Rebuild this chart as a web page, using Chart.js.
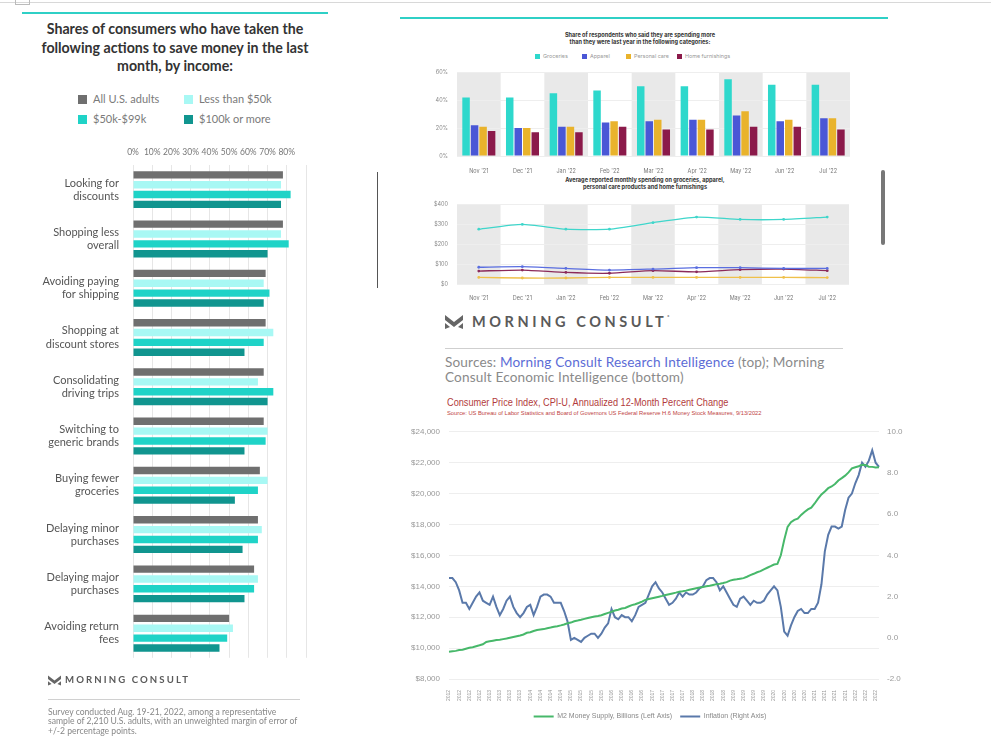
<!DOCTYPE html>
<html>
<head>
<meta charset="utf-8">
<script src="https://cdn.jsdelivr.net/npm/chart.js@4.4.1/dist/chart.umd.min.js"></script>
<style>
  body { margin: 0; width: 991px; height: 738px; background: #fff; position: relative; overflow: hidden; font-family: Lato, sans-serif; }
  .abs { position: absolute; }
  canvas { position: absolute; }
  .sq { position: absolute; width: 9px; height: 9px; }
  .lg { position: absolute; font-size: 11px; color: #7a7a7a; white-space: nowrap; }
  .tiny { position: absolute; font-family: Inter, sans-serif; font-size: 5.6px; color: #333; font-weight: 700; text-align: center; line-height: 7px; }
  .tlg { position: absolute; font-family: Inter, sans-serif; font-size: 5.4px; color: #999; white-space: nowrap; }
  .tlg i { display: inline-block; width: 5px; height: 5px; margin-right: 3px; vertical-align: -0.5px; }
  .mc { position: absolute; font-family: Lato, sans-serif; font-weight: 700; color: #5a5a5a; white-space: nowrap; }
</style>
</head>
<body>
<div class="abs" style="left:0;top:2px;width:991px;height:1px;background:#d8d8d8"></div>
<div class="abs" style="left:15px;top:0;width:13px;height:4px;border:1px solid #bbb;border-top:none"></div>

<!-- left panel -->
<div class="abs" style="left:22px;top:12px;width:306px;height:2px;background:#2fd0c6"></div>
<div class="abs" style="left:20px;top:20px;width:310px;text-align:center;font-weight:700;font-size:14.2px;line-height:18.5px;color:#333">Shares of consumers who have taken the following actions to save money in the last month, by income:</div>
<div class="sq" style="left:78px;top:95px;background:#6f6f6f"></div><div class="lg" style="left:93px;top:92px">All U.S. adults</div>
<div class="sq" style="left:184px;top:95px;background:#a8f8f4"></div><div class="lg" style="left:199px;top:92px">Less than $50k</div>
<div class="sq" style="left:78px;top:115px;background:#1fd3c7"></div><div class="lg" style="left:93px;top:112px">$50k-$99k</div>
<div class="sq" style="left:184px;top:115px;background:#10958f"></div><div class="lg" style="left:199px;top:112px">$100k or more</div>
<canvas id="actions" width="320" height="537" style="left:0;top:140px"></canvas>
<svg class="abs" style="left:48px;top:675px" width="13" height="11" viewBox="0 0 18 14"><path d="M0 0 L9 7 L18 0 L18 5 L9 12 L0 5Z M0 8 L5 12 L0 14Z M18 8 L13 12 L18 14Z" fill="#666"/></svg>
<div class="mc" style="left:65px;top:674px;font-size:9.6px;letter-spacing:2.1px">MORNING CONSULT</div>
<div class="abs" style="left:48px;top:699px;width:252px;height:1px;background:#d0d0d0"></div>
<div class="abs" style="left:48px;top:708px;width:290px;font-size:8.6px;line-height:9.3px;color:#888;white-space:nowrap">Survey conducted Aug. 19-21, 2022, among a representative<br>sample of 2,210 U.S. adults, with an unweighted margin of error of<br>+/-2 percentage points.</div>

<!-- right panel -->
<div class="abs" style="left:400px;top:17px;width:488px;height:2px;background:#2fd0c6"></div>
<div class="tiny" style="left:540px;top:32px;width:200px">Share of respondents who said they are spending more<br>than they were last year in the following categories:</div>
<div class="tlg" style="left:535px;top:53px"><i style="background:#2ed8cc"></i>Groceries</div>
<div class="tlg" style="left:582px;top:53px"><i style="background:#4a57d6"></i>Apparel</div>
<div class="tlg" style="left:626px;top:53px"><i style="background:#e9b32c"></i>Personal care</div>
<div class="tlg" style="left:677px;top:53px"><i style="background:#8b1a4a"></i>Home furnishings</div>
<canvas id="shares" width="470" height="115" style="left:400px;top:60px"></canvas>

<div class="abs" style="left:377px;top:172px;width:1px;height:116px;background:#555"></div>
<div class="abs" style="left:881px;top:170px;width:4px;height:75px;background:#777;border-radius:2px"></div>
<div class="tiny" style="left:545px;top:177px;width:200px">Average reported monthly spending on groceries, apparel,<br>personal care products and home furnishings</div>
<canvas id="spend" width="470" height="110" style="left:400px;top:192px"></canvas>

<svg class="abs" style="left:445px;top:315px" width="18" height="14" viewBox="0 0 18 14"><path d="M0 0 L9 7 L18 0 L18 5 L9 12 L0 5Z M0 8 L5 12 L0 14Z M18 8 L13 12 L18 14Z" fill="#666"/></svg>
<div class="mc" style="left:472px;top:313px;font-size:14.5px;letter-spacing:3.6px">MORNING CONSULT<span style="font-size:5px;vertical-align:8px;letter-spacing:0">°</span></div>
<div class="abs" style="left:445px;top:348px;width:398px;height:1px;background:#cfcfcf"></div>
<div class="abs" style="left:445px;top:355px;font-size:13.6px;letter-spacing:0.15px;line-height:15px;color:#8a8a8a;white-space:nowrap">Sources: <span style="color:#5c6cd6">Morning Consult Research Intelligence</span> (top); Morning<br>Consult Economic Intelligence (bottom)</div>

<div class="abs" style="left:447px;top:396px;font-family:'Liberation Sans',sans-serif;font-size:10.5px;color:#b23b3b;white-space:nowrap;transform:scaleX(0.875);transform-origin:0 0">Consumer Price Index, CPI-U, Annualized 12-Month Percent Change</div>
<div class="abs" style="left:447px;top:410px;font-family:'Liberation Sans',sans-serif;font-size:5.75px;color:#c04444;white-space:nowrap">Source: US Bureau of Labor Statistics and Board of Governors US Federal Reserve H.6 Money Stock Measures, 9/13/2022</div>
<canvas id="cpi" width="540" height="312" style="left:380px;top:418px"></canvas>

<script>
// left chart: actions by income
const actionLabels = [
  ['Looking for', 'discounts'],
  ['Shopping less', 'overall'],
  ['Avoiding paying', 'for shipping'],
  ['Shopping at', 'discount stores'],
  ['Consolidating', 'driving trips'],
  ['Switching to', 'generic brands'],
  ['Buying fewer', 'groceries'],
  ['Delaying minor', 'purchases'],
  ['Delaying major', 'purchases'],
  ['Avoiding return', 'fees']
];
const allAdults  = [78, 78, 69, 69, 68, 68, 66, 65, 63, 50];
const under50k   = [77, 77, 68, 73, 65, 70, 70, 67, 65, 52];
const mid50to99k = [82, 81, 71, 68, 73, 69, 65, 65, 63, 49];
const over100k   = [77, 70, 68, 58, 70, 58, 53, 57, 58, 45];
const pctTicks = ['0%', '10%', '20%', '30%', '40%', '50%', '60%', '70%', '80%', ''];

// top right: share spending more
const months = ["Nov '21", "Dec '21", "Jan '22", "Feb '22", "Mar '22", "Apr '22", "May '22", "Jun '22", "Jul '22"];
const shareGroceries = [42, 42, 45, 47, 50, 50, 55, 51, 51];
const shareApparel   = [22, 20, 21, 24, 25, 26, 29, 25, 27];
const sharePersonal  = [21, 20, 21, 25, 26, 26, 32, 26, 27];
const shareHome      = [18, 17, 17, 21, 19, 19, 21, 21, 19];

// middle right: average monthly spending ($)
const spendGroceries = [275, 299, 275, 275, 308, 336, 324, 324, 336];
const spendApparel   = [84, 87, 78, 70, 75, 82, 82, 78, 78];
const spendHome      = [65, 70, 58, 54, 67, 61, 72, 75, 67];
const spendPersonal  = [33, 30, 30, 33, 33, 33, 33, 33, 32];

// bottom right: M2 vs CPI, monthly Jan 2012 - Aug 2022
const cpiYears = [2012, 2013, 2014, 2015, 2016, 2017, 2018, 2019, 2020, 2021, 2022];
const m2Supply = [
  9760, 9790, 9820, 9870, 9900, 9960, 10020, 10060, 10120, 10180, 10250, 10400,
  10440, 10480, 10520, 10540, 10580, 10620, 10670, 10720, 10770, 10820, 10880, 10990,
  11030, 11110, 11170, 11200, 11230, 11290, 11330, 11380, 11420, 11470, 11530, 11610,
  11650, 11740, 11780, 11830, 11890, 11950, 12000, 12050, 12080, 12130, 12210, 12280,
  12350, 12430, 12480, 12560, 12600, 12690, 12780, 12840, 12920, 13010, 13120, 13180,
  13230, 13280, 13330, 13380, 13440, 13490, 13540, 13590, 13650, 13680, 13720, 13780,
  13830, 13880, 13920, 13960, 14000, 14040, 14090, 14140, 14170, 14210, 14270, 14370,
  14420, 14450, 14490, 14530, 14620, 14720, 14810, 14910, 14980, 15100, 15200, 15300,
  15410, 15450, 16010, 17000, 17850, 18150, 18300, 18380, 18620, 18810, 18980, 19090,
  19360, 19670, 19950, 20140, 20350, 20460, 20620, 20850, 21000, 21160, 21370, 21640,
  21710, 21770, 21870, 21850, 21740, 21730, 21690, 21700
];
const inflation = [
  2.9, 2.9, 2.7, 2.3, 1.7, 1.7, 1.4, 1.7, 2.0, 2.2, 1.8, 1.7,
  1.6, 2.0, 1.5, 1.1, 1.4, 1.8, 2.0, 1.5, 1.2, 1.0, 1.2, 1.5,
  1.6, 1.1, 1.5, 2.0, 2.1, 2.1, 2.0, 1.7, 1.7, 1.7, 1.3, 0.8,
  -0.1, 0.0, -0.1, -0.2, 0.0, 0.1, 0.2, 0.2, 0.0, 0.2, 0.5, 0.7,
  1.4, 1.0, 0.9, 1.1, 1.0, 1.0, 0.8, 1.1, 1.5, 1.6, 1.7, 2.1,
  2.5, 2.7, 2.4, 2.2, 1.9, 1.6, 1.7, 1.9, 2.2, 2.0, 2.2, 2.1,
  2.1, 2.2, 2.4, 2.5, 2.8, 2.9, 2.9, 2.7, 2.3, 2.5, 2.2, 1.9,
  1.6, 1.5, 1.9, 2.0, 1.8, 1.6, 1.8, 1.7, 1.7, 1.8, 2.1, 2.3,
  2.5, 2.3, 1.5, 0.3, 0.1, 0.6, 1.0, 1.3, 1.4, 1.2, 1.2, 1.4,
  1.4, 1.7, 2.6, 4.2, 5.0, 5.4, 5.4, 5.3, 5.4, 6.2, 6.8, 7.0,
  7.5, 7.9, 8.5, 8.3, 8.6, 9.1, 8.5, 8.3
];
const cpiLabels = cpiYears.flatMap(y => Array(12).fill(String(y))).slice(0, inflation.length);

Chart.defaults.animation = false;
Chart.defaults.responsive = false;
Chart.defaults.plugins.tooltip.enabled = false;

// grey band behind every other month
const bandPlugin = {
  id: 'bands',
  beforeDraw(chart) {
    const { ctx, chartArea, scales: { x } } = chart;
    const w = x.getPixelForValue(1) - x.getPixelForValue(0);
    ctx.save();
    ctx.fillStyle = '#e9e9e9';
    for (let i = 0; i < months.length; i += 2) {
      const c = x.getPixelForValue(i);
      ctx.fillRect(c - w / 2, chartArea.top, w, chartArea.bottom - chartArea.top);
    }
    ctx.restore();
  }
};

new Chart(document.getElementById('actions'), {
  type: 'bar',
  data: {
    labels: actionLabels,
    datasets: [
      { label: 'All U.S. adults', data: allAdults, backgroundColor: '#6f6f6f' },
      { label: 'Less than $50k', data: under50k, backgroundColor: '#a8f8f4' },
      { label: '$50k-$99k', data: mid50to99k, backgroundColor: '#1fd3c7' },
      { label: '$100k or more', data: over100k, backgroundColor: '#10958f' }
    ]
  },
  options: {
    indexAxis: 'y',
    datasets: { bar: { categoryPercentage: 0.8, barPercentage: 0.75 } },
    layout: { padding: { right: 14, bottom: 10 } },
    plugins: { legend: { display: false } },
    scales: {
      x: {
        position: 'top', min: 0, max: 90,
        ticks: { stepSize: 10, padding: 8, color: '#777', font: { family: 'Lato', size: 8.5 },
                 maxRotation: 0, minRotation: 0, autoSkip: false,
                 callback: (v, i) => pctTicks[i] },
        grid: { color: '#e6e6e6', drawTicks: false },
        border: { display: false },
        afterFit(s) { s.height = 25; }
      },
      y: {
        ticks: { color: '#555', padding: 6, font: { family: 'Lato', size: 11, lineHeight: 1.2 } },
        grid: { display: false },
        border: { display: false },
        afterFit(s) { s.width = 133; }
      }
    }
  }
});

const smallFont = { family: 'Inter', size: 5.5 };

new Chart(document.getElementById('shares'), {
  type: 'bar',
  data: {
    labels: months,
    datasets: [
      { label: 'Groceries', data: shareGroceries, backgroundColor: '#2ed8cc' },
      { label: 'Apparel', data: shareApparel, backgroundColor: '#4a57d6' },
      { label: 'Personal care', data: sharePersonal, backgroundColor: '#e9b32c' },
      { label: 'Home furnishings', data: shareHome, backgroundColor: '#8b1a4a' }
    ]
  },
  options: {
    datasets: { bar: { categoryPercentage: 0.78, barPercentage: 0.88 } },
    layout: { padding: { top: 9, right: 20 } },
    plugins: { legend: { display: false } },
    scales: {
      x: {
        ticks: { color: '#777', font: smallFont, padding: 4 },
        grid: { display: false }, border: { display: false },
        afterFit(s) { s.height = 19; }
      },
      y: {
        min: 0, max: 60,
        ticks: { stepSize: 20, color: '#888', font: smallFont, padding: 9, callback: v => v + '%' },
        grid: { color: '#eeeeee', drawTicks: false }, border: { display: false },
        afterFit(s) { s.width = 57; }
      }
    }
  },
  plugins: [bandPlugin]
});

const lineSet = (label, data, color) => ({
  label, data, borderColor: color, backgroundColor: color,
  borderWidth: 1.3, pointRadius: 1.4, pointBorderWidth: 0, tension: 0.2
});

new Chart(document.getElementById('spend'), {
  type: 'line',
  data: {
    labels: months,
    datasets: [
      lineSet('Groceries', spendGroceries, '#3fd6cb'),
      lineSet('Apparel', spendApparel, '#5a6ee0'),
      lineSet('Home furnishings', spendHome, '#8b2a5a'),
      lineSet('Personal care', spendPersonal, '#efc04a')
    ]
  },
  options: {
    layout: { padding: { top: 6, right: 21 } },
    plugins: { legend: { display: false } },
    scales: {
      x: {
        offset: true,
        ticks: { color: '#777', font: smallFont, padding: 3 },
        grid: { display: false }, border: { display: false },
        afterFit(s) { s.height = 18; }
      },
      y: {
        min: 0, max: 400,
        ticks: { stepSize: 100, color: '#888', font: smallFont, padding: 9, callback: v => '$' + v },
        grid: { color: '#eeeeee', drawTicks: false }, border: { display: false },
        afterFit(s) { s.width = 57; }
      }
    }
  },
  plugins: [bandPlugin]
});

const narrow = "'Liberation Sans', sans-serif";

new Chart(document.getElementById('cpi'), {
  type: 'line',
  data: {
    labels: cpiLabels,
    datasets: [
      { label: 'M2 Money Supply, Billions (Left Axis)', data: m2Supply, yAxisID: 'yL',
        borderColor: '#47b86a', backgroundColor: '#47b86a', borderWidth: 2, pointRadius: 0 },
      { label: 'Inflation (Right Axis)', data: inflation, yAxisID: 'yR',
        borderColor: '#5a79aa', backgroundColor: '#5a79aa', borderWidth: 2, pointRadius: 0 }
    ]
  },
  options: {
    layout: { padding: { top: 5 } },
    plugins: {
      legend: {
        position: 'bottom',
        labels: { usePointStyle: true, pointStyle: 'line', pointStyleWidth: 20, boxHeight: 7,
                  color: '#888', font: { family: narrow, size: 7 }, padding: 8 }
      }
    },
    scales: {
      x: {
        ticks: { autoSkip: false, maxRotation: 90, minRotation: 90, color: '#999',
                 font: { family: narrow, size: 5 }, padding: 3,
                 callback: (v, i) => (i % 3 === 0 ? cpiLabels[i] : null) },
        grid: { display: false }, border: { display: false },
        afterFit(s) { s.height = 26; }
      },
      yL: {
        position: 'left', min: 8000, max: 24000,
        ticks: { stepSize: 2000, color: '#999', font: { family: narrow, size: 8 }, padding: 9,
                 callback: v => '$' + v.toLocaleString('en-US') },
        grid: { color: '#eeeeee', drawTicks: false }, border: { display: false },
        afterFit(s) { s.width = 69; }
      },
      yR: {
        position: 'right', min: -2, max: 10,
        ticks: { stepSize: 2, color: '#999', font: { family: narrow, size: 8 }, padding: 0,
                 callback: v => v.toFixed(1) },
        grid: { display: false }, border: { display: false },
        afterFit(s) { s.width = 41; }
      }
    }
  }
});
</script>
</body>
</html>
